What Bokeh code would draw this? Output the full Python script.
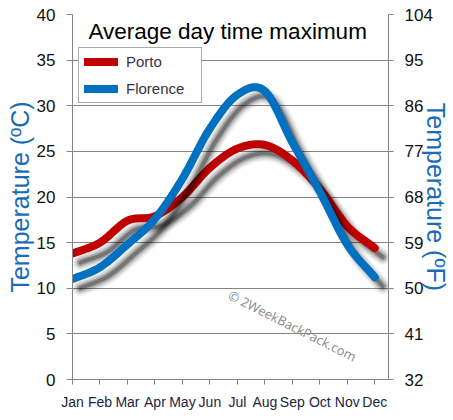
import numpy as np
from bokeh.plotting import figure
from bokeh.models import Range1d, LinearAxis, FixedTicker, Label, Legend, LegendItem
from bokeh.embed import file_html
from bokeh.resources import INLINE

# ---- data ----
months = ["Jan", "Feb", "Mar", "Apr", "May", "Jun", "Jul", "Aug", "Sep", "Oct", "Nov", "Dec"]
porto = [13.8, 15.0, 17.4, 17.9, 20.0, 23.2, 25.3, 25.7, 24.0, 20.9, 16.8, 14.4]
florence = [11.0, 12.3, 14.8, 17.6, 22.0, 27.5, 31.2, 31.6, 26.0, 20.6, 14.8, 11.2]
celsius_ticks = [0, 5, 10, 15, 20, 25, 30, 35, 40]
fahrenheit_ticks = [32, 41, 50, 59, 68, 77, 86, 95, 104]
title_text = "Average day time maximum"
watermark_text = "\u00a9 2WeekBackPack.com"

RED = "#c00000"
BLUE = "#0070c0"
GRID = "#858585"
FONT = "Liberation Sans"
LABEL_BLUE = "#1a6bb8"


def smooth(ys, n=24):
    """Catmull-Rom curve through the monthly points (drawing only)."""
    xs = np.arange(len(ys), dtype=float)
    y = np.asarray(ys, dtype=float)
    xp = np.concatenate([[2 * xs[0] - xs[1]], xs, [2 * xs[-1] - xs[-2]]])
    yp = np.concatenate([[2 * y[0] - y[1]], y, [2 * y[-1] - y[-2]]])
    out_x, out_y = [], []
    for i in range(1, len(xp) - 2):
        t = np.linspace(0, 1, n, endpoint=False)
        m1 = (yp[i + 1] - yp[i - 1]) / 2
        m2 = (yp[i + 2] - yp[i]) / 2
        h00 = 2 * t**3 - 3 * t**2 + 1
        h10 = t**3 - 2 * t**2 + t
        h01 = -2 * t**3 + 3 * t**2
        h11 = t**3 - t**2
        out_y.extend(h00 * yp[i] + h10 * m1 + h01 * yp[i + 1] + h11 * m2)
        out_x.extend(xp[i] + t * (xp[i + 1] - xp[i]))
    out_x.append(xs[-1])
    out_y.append(y[-1])
    return np.array(out_x), np.array(out_y)


p = figure(width=453, height=420,
           x_range=Range1d(0, 11.5), y_range=Range1d(0, 40),
           output_backend="svg", toolbar_location=None,
           min_border_left=72, min_border_right=65,
           min_border_top=14, min_border_bottom=41)
p.outline_line_color = None
p.background_fill_color = "white"
p.border_fill_color = "white"
p.xgrid.visible = False
p.ygrid.ticker = FixedTicker(ticks=celsius_ticks)
p.ygrid.grid_line_color = GRID
p.ygrid.grid_line_width = 1

# left axis (Celsius)
ya = p.yaxis[0]
ya.ticker = FixedTicker(ticks=celsius_ticks)
ya.axis_line_color = GRID
ya.major_tick_line_color = GRID
ya.major_tick_out = 6
ya.major_tick_in = 0
ya.minor_tick_line_color = None
ya.major_label_text_font = FONT
ya.major_label_text_font_size = "17px"
ya.major_label_text_color = "#111111"
ya.major_label_standoff = 11
ya.axis_label = "Temperature (\u00baC)"
ya.axis_label_text_font = FONT
ya.axis_label_text_font_size = "25px"
ya.axis_label_text_font_style = "normal"
ya.axis_label_text_color = LABEL_BLUE
ya.axis_label_standoff = 0

# bottom axis (months)
xa = p.xaxis[0]
xa.ticker = FixedTicker(ticks=list(range(len(months))))
xa.major_label_overrides = {i: m for i, m in enumerate(months)}
xa.axis_line_color = GRID
xa.major_tick_line_color = GRID
xa.major_tick_out = 5
xa.major_tick_in = 0
xa.minor_tick_line_color = None
xa.major_label_text_font = FONT
xa.major_label_text_font_size = "14px"
xa.major_label_text_color = "#1b2540"
xa.major_label_standoff = 9

# right axis (Fahrenheit)
p.extra_y_ranges = {"f": Range1d(fahrenheit_ticks[0], fahrenheit_ticks[-1])}
ra = LinearAxis(y_range_name="f", ticker=FixedTicker(ticks=fahrenheit_ticks))
ra.axis_line_color = GRID
ra.major_tick_line_color = GRID
ra.major_tick_out = 5
ra.major_tick_in = 0
ra.minor_tick_line_color = None
ra.major_label_text_font = FONT
ra.major_label_text_font_size = "17px"
ra.major_label_text_color = "#111111"
ra.major_label_standoff = 11
ra.axis_label = "Temperature (\u00baF)"
ra.axis_label_text_font = FONT
ra.axis_label_text_font_size = "25px"
ra.axis_label_text_font_style = "normal"
ra.axis_label_text_color = LABEL_BLUE
ra.axis_label_standoff = -14
p.add_layout(ra, "right")

# shadow offset: 8px right, 9px down, converted to data units
px_x = 11.5 / 316.0
px_y = 40.0 / 365.0
sdx, sdy = 8 * px_x, -9 * px_y


def shadow(xs, ys):
    for w, a in [(16, 0.05), (13, 0.07), (10, 0.11), (7, 0.18), (4, 0.28)]:
        p.line(xs + sdx, ys + sdy, line_color="#000000", line_alpha=a,
               line_width=w, line_cap="round", line_join="round")


px, py = smooth(porto)
fx, fy = smooth(florence)

shadow(px, py)
r_porto = p.line(px, py, line_color=RED, line_width=8, line_cap="round", line_join="round")
shadow(fx, fy)
r_flor = p.line(fx, fy, line_color=BLUE, line_width=8, line_cap="round", line_join="round")

# title inside the plot
p.add_layout(Label(x=0.58, y=38.1, text=title_text, text_font=FONT,
                   text_font_size="22.5px", text_color="#000000",
                   text_baseline="middle", text_align="left"))

# watermark
p.add_layout(Label(x=8.0, y=5.9, text=watermark_text, text_font="Open Sans",
                   text_font_size="13px", text_color="#8a8a8a",
                   angle=-0.466, angle_units="rad",
                   text_align="center", text_baseline="middle"))

legend = Legend(items=[LegendItem(label="Porto", renderers=[r_porto]),
                       LegendItem(label="Florence", renderers=[r_flor])],
                location=(6, 276))
legend.margin = 0
legend.padding = 5
legend.spacing = 10
legend.glyph_width = 34
legend.glyph_height = 17
legend.label_height = 17
legend.label_width = 70
legend.label_standoff = 8
legend.border_line_color = "#555555"
legend.border_line_width = 1
legend.background_fill_color = "white"
legend.background_fill_alpha = 1
legend.label_text_font = FONT
legend.label_text_font_size = "15px"
legend.label_text_color = "#333344"
p.add_layout(legend, "center")

open("out.html", "w").write(file_html(p, INLINE))
